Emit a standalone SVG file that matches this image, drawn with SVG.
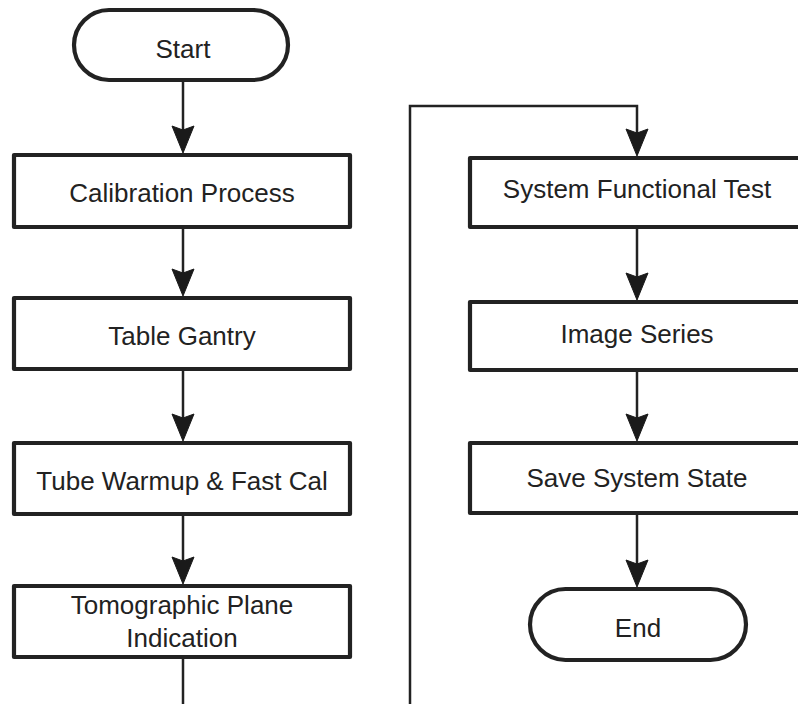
<svg xmlns="http://www.w3.org/2000/svg" width="798" height="704" viewBox="0 0 798 704">
<defs>
<style>
.box{fill:#fff;stroke:#222;stroke-width:4.2;stroke-linejoin:round}
.t{font-family:"Liberation Sans",Arial,sans-serif;font-size:26px;fill:#222;text-anchor:middle}
.c{fill:none;stroke:#222;stroke-width:2.5}
.head{fill:#1a1a1a;stroke:#1a1a1a;stroke-width:1;stroke-linejoin:miter}
</style>
</defs>
<rect width="798" height="704" fill="#fff"/>
<g id="connectors">
<line class="c" x1="183" y1="82" x2="183" y2="140"/>
<path class="head" d="M183,153 L172,126 L183,130 L194,126 Z"/>
<line class="c" x1="183" y1="229" x2="183" y2="283"/>
<path class="head" d="M183,296 L172,269 L183,273 L194,269 Z"/>
<line class="c" x1="183" y1="371" x2="183" y2="428"/>
<path class="head" d="M183,441 L172,414 L183,418 L194,414 Z"/>
<line class="c" x1="183" y1="516" x2="183" y2="571"/>
<path class="head" d="M183,584 L172,557 L183,561 L194,557 Z"/>
<line class="c" x1="183" y1="659" x2="183" y2="704"/>
<path class="c" d="M410,704 V106 H637 V143"/>
<path class="head" d="M637,156 L626,129 L637,133 L648,129 Z"/>
<line class="c" x1="637" y1="229" x2="637" y2="287"/>
<path class="head" d="M637,300 L626,273 L637,277 L648,273 Z"/>
<line class="c" x1="637" y1="372" x2="637" y2="428"/>
<path class="head" d="M637,441 L626,414 L637,418 L648,414 Z"/>
<line class="c" x1="637" y1="515" x2="637" y2="574"/>
<path class="head" d="M637,587 L626,560 L637,564 L648,560 Z"/>
</g>
<g id="start">
<rect class="box" x="74" y="10" width="214" height="70" rx="35"/>
<text class="t" x="183" y="58">Start</text>
</g>
<g id="calibration">
<rect class="box" x="14" y="155" width="336" height="72"/>
<text class="t" x="182" y="202">Calibration Process</text>
</g>
<g id="table-gantry">
<rect class="box" x="14" y="298" width="336" height="71"/>
<text class="t" x="182" y="345">Table Gantry</text>
</g>
<g id="tube-warmup">
<rect class="box" x="14" y="443" width="336" height="71"/>
<text class="t" x="182" y="490">Tube Warmup &amp; Fast Cal</text>
</g>
<g id="tomographic">
<rect class="box" x="14" y="586" width="336" height="71"/>
<text class="t" x="182" y="614">Tomographic Plane</text>
<text class="t" x="182" y="647">Indication</text>
</g>
<g id="system-functional-test">
<rect class="box" x="470" y="158" width="336" height="69"/>
<text class="t" x="637" y="198">System Functional Test</text>
</g>
<g id="image-series">
<rect class="box" x="470" y="302" width="336" height="68"/>
<text class="t" x="637" y="343">Image Series</text>
</g>
<g id="save-system-state">
<rect class="box" x="470" y="443" width="336" height="70"/>
<text class="t" x="637" y="487">Save System State</text>
</g>
<g id="end">
<rect class="box" x="530" y="589" width="216" height="71" rx="35.5"/>
<text class="t" x="638" y="637">End</text>
</g>
</svg>
